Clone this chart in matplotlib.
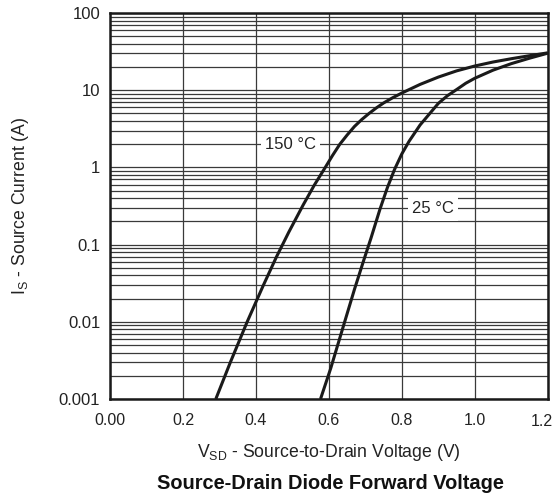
import matplotlib
matplotlib.use("Agg")
import matplotlib.pyplot as plt
from matplotlib.ticker import LogLocator, NullFormatter

plt.rcParams['font.family'] = ['Liberation Sans', 'DejaVu Sans']
plt.rcParams['mathtext.fontset'] = 'custom'
plt.rcParams['mathtext.rm'] = 'Liberation Sans'
plt.rcParams['mathtext.it'] = 'Liberation Sans:italic'

# Courbes (V, A)
v_150 = [0.29, 0.33, 0.376, 0.42, 0.456, 0.49, 0.53, 0.56, 0.59, 0.61, 0.63, 0.65, 0.67, 0.69,
         0.71, 0.73, 0.75, 0.775, 0.80, 0.85, 0.90, 0.95, 1.00, 1.05, 1.10, 1.15, 1.20]
i_150 = [0.001, 0.003, 0.01, 0.0295, 0.069, 0.145, 0.33, 0.59, 1.0, 1.43, 2.0, 2.63, 3.39, 4.17,
         5.0, 5.9, 6.84, 8.0, 9.2, 11.9, 14.8, 17.8, 20.6, 23.2, 25.6, 28.0, 30.5]

v_25 = [0.577, 0.605, 0.64, 0.67, 0.695, 0.715, 0.74, 0.76, 0.78, 0.80, 0.82, 0.85, 0.875, 0.90,
        0.925, 0.95, 0.975, 1.00, 1.05, 1.10, 1.15, 1.20]
i_25 = [0.001, 0.0025, 0.0089, 0.0263, 0.0617, 0.12, 0.288, 0.543, 0.944, 1.50, 2.19, 3.55, 4.9, 6.76,
        8.5, 10.2, 12.3, 14.3, 18.2, 22.1, 26.0, 30.2]

x_ticks = [0.0, 0.2, 0.4, 0.6, 0.8, 1.0, 1.2]
x_labels = ["0.00", "0.2", "0.4", "0.6", "0.8", "1.0", "1.2"]
y_ticks = [0.001, 0.01, 0.1, 1, 10, 100]
y_labels = ["0.001", "0.01", "0.1", "1", "10", "100"]

fig = plt.figure(figsize=(5.57, 4.99), dpi=100)
ax = fig.add_axes([0.1975, 0.2004, 0.786, 0.7735])

ax.set_yscale('log')
ax.set_xlim(0, 1.2)
ax.set_ylim(0.001, 100)

# la dernière étiquette est posée à part pour ne pas sortir de l'image
ax.set_xticks(x_ticks)
ax.set_xticklabels(x_labels[:-1] + [""])
ax.annotate(x_labels[-1], xy=(x_ticks[-1], 0.001), xytext=(-4, -11), textcoords='offset points',
            ha='center', va='top', fontsize=11.5, color='#222222', annotation_clip=False)
ax.set_yticks(y_ticks)
ax.set_yticklabels(y_labels)
ax.yaxis.set_minor_locator(LogLocator(base=10, subs=range(2, 10)))
ax.yaxis.set_minor_formatter(NullFormatter())

grid_col = '#3a3a3a'
ax.grid(True, which='major', axis='both', color=grid_col, lw=0.9)
ax.grid(True, which='minor', axis='y', color=grid_col, lw=0.9)
ax.set_axisbelow(True)

ax.tick_params(which='both', length=0)
ax.tick_params(axis='x', pad=10, labelsize=11.5, colors='#222222')
ax.tick_params(axis='y', pad=7, labelsize=12, colors='#222222')

for s in ax.spines.values():
    s.set_linewidth(1.8)
    s.set_color('#1a1a1a')

ax.plot(v_150, i_150, color='#1a1a1a', lw=2.2, solid_capstyle='butt', solid_joinstyle='round')
ax.plot(v_25, i_25, color='#1a1a1a', lw=2.2, solid_capstyle='butt', solid_joinstyle='round')

box = dict(facecolor='white', edgecolor='none', pad=3)
ax.text(0.495, 2.0, "150 °C", fontsize=12, ha='center', va='center', bbox=box, color='#222222')
ax.text(0.885, 0.29, "25 °C", fontsize=12, ha='center', va='center', bbox=box, color='#222222')

ax.set_ylabel("I$_{\\mathrm{S}}$ - Source Current (A)", fontsize=12.7, labelpad=20, color='#222222')
ax.set_xlabel("V$_{\\mathrm{SD}}$ - Source-to-Drain Voltage (V)", fontsize=12.7, labelpad=10, color='#222222')

fig.text(0.594, 0.032, "Source-Drain Diode Forward Voltage", fontsize=14.4, fontweight='bold',
         ha='center', va='center', color='#111111')

fig.savefig("out.png", dpi=100)
